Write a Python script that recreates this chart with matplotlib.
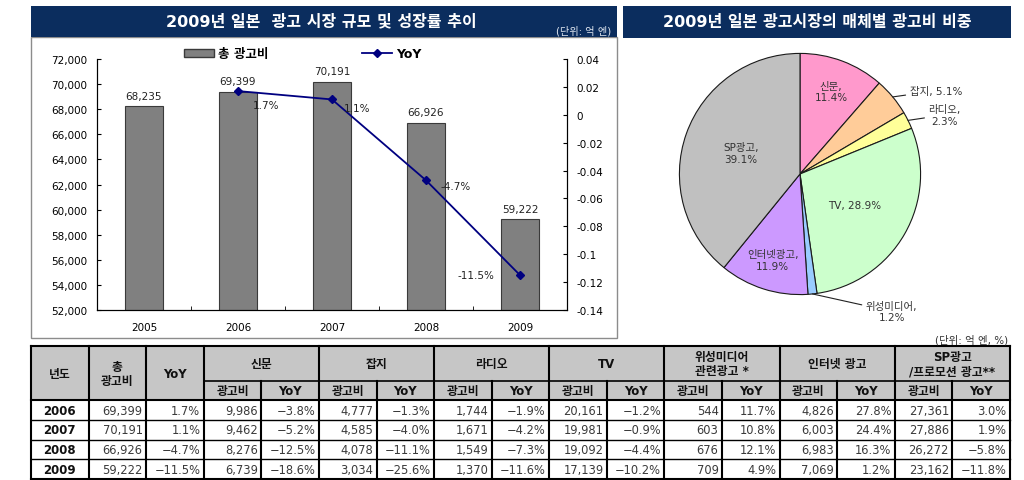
import matplotlib
matplotlib.use('Agg')
import matplotlib.pyplot as plt
from matplotlib.patches import Rectangle, Patch
from matplotlib.lines import Line2D
from matplotlib.ticker import FuncFormatter, FixedLocator
import numpy as np

plt.rcParams['font.family'] = ['DejaVu Sans', 'Noto Sans CJK KR']
plt.rcParams['axes.unicode_minus'] = False

# --- data -------------------------------------------------------------
years = ['2005', '2006', '2007', '2008', '2009']
total_ad = [68235, 69399, 70191, 66926, 59222]
yoy_years = ['2006', '2007', '2008', '2009']
yoy = [0.017, 0.011, -0.047, -0.115]
yoy_labels = ['1.7%', '1.1%', '-4.7%', '-11.5%']

media = ['신문', '잡지', '라디오', 'TV', '위성미디어', '인터넷광고', 'SP광고']
share = [11.4, 5.1, 2.3, 28.9, 1.2, 11.9, 39.1]
media_colors = ['#ff99cc', '#ffcc99', '#ffff99', '#ccffcc', '#99ccff', '#cc99ff', '#c0c0c0']

table_years = ['2006', '2007', '2008', '2009']
table_groups = ['신문', '잡지', '라디오', 'TV', '위성미디어\n관련광고 *', '인터넷 광고', 'SP광고\n/프로모션 광고**']
# columns: total, 신문, 잡지, 라디오, TV, 위성, 인터넷, SP
table_ad = [
    [69399, 9986, 4777, 1744, 20161, 544, 4826, 27361],
    [70191, 9462, 4585, 1671, 19981, 603, 6003, 27886],
    [66926, 8276, 4078, 1549, 19092, 676, 6983, 26272],
    [59222, 6739, 3034, 1370, 17139, 709, 7069, 23162],
]
table_yoy = [
    [1.7, -3.8, -1.3, -1.9, -1.2, 11.7, 27.8, 3.0],
    [1.1, -5.2, -4.0, -4.2, -0.9, 10.8, 24.4, 1.9],
    [-4.7, -12.5, -11.1, -7.3, -4.4, 12.1, 16.3, -5.8],
    [-11.5, -18.6, -25.6, -11.6, -10.2, 4.9, 1.2, -11.8],
]

W, H = 1024, 481
NAVY = '#0b2d5e'


def fx(x):
    return x / W


def fy(y):
    return 1 - y / H


fig = plt.figure(figsize=(W / 100, H / 100), dpi=100)

# --- panel frames / title bars ------------------------------------------
fig.patches.append(Rectangle((fx(31), fy(339)), fx(617) - fx(31), fy(38) - fy(339),
                             transform=fig.transFigure, fill=False, edgecolor='#8c8c8c', lw=1))
fig.patches.append(Rectangle((fx(31), fy(38)), fx(617) - fx(31), fy(7) - fy(38),
                             transform=fig.transFigure, facecolor=NAVY, edgecolor='none'))
fig.patches.append(Rectangle((fx(623), fy(39)), fx(1011) - fx(623), fy(7) - fy(39),
                             transform=fig.transFigure, facecolor=NAVY, edgecolor='none'))
fig.text(fx(321), fy(22), '2009년 일본  광고 시장 규모 및 성장률 추이', color='white',
         weight='bold', size=11.5, ha='center', va='center')
fig.text(fx(611), fy(31), '(단위: 억 엔)', color='#dfe6f0', size=7.3, ha='right', va='center')
fig.text(fx(817), fy(22), '2009년 일본 광고시장의 매체별 광고비 비중', color='white',
         weight='bold', size=11.5, ha='center', va='center')

# --- bar + line chart -----------------------------------------------------
ax = fig.add_axes([fx(97), fy(311), fx(567) - fx(97), fy(60) - fy(311)])
x = np.arange(len(years))
ax.bar(x, total_ad, width=0.41, color='#808080', edgecolor='#3a3a3a', lw=0.8)
for xi, v in zip(x, total_ad):
    ax.annotate(f'{v:,}', (xi, v), xytext=(0, 4), textcoords='offset points',
                ha='center', va='bottom', size=7.5, color='#222222')
ax.set_xlim(-0.5, len(years) - 0.5)
ax.set_ylim(52000, 72000)
ax.set_yticks(np.arange(52000, 72001, 2000))
ax.yaxis.set_major_formatter(FuncFormatter(lambda v, p: f'{v:,.0f}'))
ax.set_xticks(x)
ax.set_xticklabels(years)
ax.xaxis.set_minor_locator(FixedLocator(np.arange(0.5, len(years) - 0.5, 1)))
ax.tick_params(axis='x', which='major', length=0, pad=9, labelsize=7.5)
ax.tick_params(axis='x', which='minor', length=3, direction='in')
ax.tick_params(axis='y', length=3, direction='in', pad=7, labelsize=7.5)
ax.spines['top'].set_visible(False)
for s in ['left', 'bottom', 'right']:
    ax.spines[s].set_linewidth(0.8)

ax2 = ax.twinx()
yx = [years.index(y) for y in yoy_years]
ax2.plot(yx, yoy, color='#000080', lw=1.3, marker='D', markersize=4.5)
label_offsets = [(20, -10), (18, -6), (21, -4), (-32, 0)]
for xi, v, t, off in zip(yx, yoy, yoy_labels, label_offsets):
    ax2.annotate(t, (xi, v), xytext=off, textcoords='offset points',
                 ha='center', va='center', size=7.5, color='#222222')
ax2.set_ylim(-0.14, 0.04)
ax2.set_yticks(np.round(np.arange(-0.14, 0.041, 0.02), 2))
ax2.yaxis.set_major_formatter(FuncFormatter(lambda v, p: f'{round(v, 2):g}'))
ax2.tick_params(axis='y', length=3, direction='in', pad=7, labelsize=7.5)
ax2.spines['top'].set_visible(False)
ax2.spines['right'].set_linewidth(0.8)

handles = [Patch(facecolor='#808080', edgecolor='#3a3a3a', label='총 광고비'),
           Line2D([], [], color='#000080', marker='D', markersize=4.5, lw=1.3, label='YoY')]
ax2.legend(handles=handles, ncol=2, loc='center', bbox_to_anchor=(0.438, 1.02),
           frameon=False, prop={'weight': 'bold', 'size': 9}, handlelength=2.4,
           columnspacing=7.5, handletextpad=0.3)

# --- pie chart ------------------------------------------------------------
pax = fig.add_axes([fx(677), fy(298), fx(923) - fx(677), fy(52) - fy(298)])
wedges, _ = pax.pie(share, colors=media_colors, startangle=90, counterclock=False,
                    wedgeprops=dict(edgecolor='#1a1a1a', linewidth=0.8))
pax.set_xlim(-1.02, 1.02)
pax.set_ylim(-1.02, 1.02)

total_share = sum(share)
mid = 90 - 360 * (np.cumsum(share) - np.array(share) / 2) / total_share
inside = {'신문': (0.73, '{m},\n{s}%'), 'TV': (0.52, '{m}, {s}%'),
          '인터넷광고': (0.75, '{m},\n{s}%'), 'SP광고': (0.52, '{m},\n{s}%')}
outside = {'잡지': ((0.91, 0.69), 'left', '{m}, {s}%'),
           '라디오': ((1.2, 0.49), 'center', '{m},\n{s}%'),
           '위성미디어': ((0.76, -1.14), 'center', '{m},\n{s}%')}
for m, s, a in zip(media, share, mid):
    rad = np.deg2rad(a)
    if m in inside:
        r, fmt = inside[m]
        pax.text(r * np.cos(rad), r * np.sin(rad), fmt.format(m=m, s=s), ha='center',
                 va='center', size=7.5, color='#333333', linespacing=1.2)
    else:
        pos, ha, fmt = outside[m]
        pax.annotate(fmt.format(m=m, s=s), (np.cos(rad), np.sin(rad)), xytext=pos,
                     ha=ha, va='center', size=7.5, color='#333333', linespacing=1.2,
                     annotation_clip=False,
                     arrowprops=dict(arrowstyle='-', color='#222222', lw=0.8,
                                     shrinkA=1, shrinkB=0))
fig.text(fx(1008), fy(340), '(단위: 억 엔, %)', size=7.5, color='#333333', ha='right', va='center')

# --- table ----------------------------------------------------------------
ncol = 3 + 2 * len(table_groups)
row_h = [1.8, 0.95] + [1.0] * len(table_years)
row_y = np.concatenate([[0], np.cumsum(row_h)])
tax = fig.add_axes([fx(31), fy(480), fx(1010) - fx(31), fy(347) - fy(480)])
tax.set_xlim(0, ncol)
tax.set_ylim(row_y[-1], 0)
tax.axis('off')
tax.add_patch(Rectangle((0, 0), ncol, row_y[2], facecolor='#c6c6c6', edgecolor='none'))

lk = dict(color='black', clip_on=False)
tax.plot([0, ncol], [0, 0], lw=1.5, **lk)
tax.plot([3, ncol], [row_y[1]] * 2, lw=1.2, **lk)
for yy in row_y[2:]:
    tax.plot([0, ncol], [yy, yy], lw=1.5 if yy in (row_y[2], row_y[-1]) else 1.0, **lk)
for c in range(ncol + 1):
    top = row_y[1] if (c > 3 and (c - 3) % 2 == 1) else 0
    tax.plot([c, c], [top, row_y[-1]], lw=1.5, **lk)

hk = dict(ha='center', va='center', weight='bold', size=8.5, color='#111111', linespacing=1.1)
tax.text(0.5, row_y[2] / 2, '년도', **hk)
tax.text(1.5, row_y[2] / 2, '총\n광고비', **hk)
tax.text(2.5, row_y[2] / 2, 'YoY', **hk)
for g, name in enumerate(table_groups):
    c0 = 3 + 2 * g
    tax.text(c0 + 1, row_y[1] / 2, name, **hk)
    tax.text(c0 + 0.5, (row_y[1] + row_y[2]) / 2, '광고비', **hk)
    tax.text(c0 + 1.5, (row_y[1] + row_y[2]) / 2, 'YoY', **hk)


def pct(v):
    return f'{v:.1f}%'.replace('-', '−')


for r, yr in enumerate(table_years):
    yc = (row_y[r + 2] + row_y[r + 3]) / 2
    tax.text(0.5, yc, yr, ha='center', va='center', weight='bold', size=8.5, color='#111111')
    cells = [f'{table_ad[r][0]:,}', pct(table_yoy[r][0])]
    for k in range(1, len(table_ad[r])):
        cells += [f'{table_ad[r][k]:,}', pct(table_yoy[r][k])]
    for k, t in enumerate(cells):
        tax.text(1 + k + 0.94, yc, t, ha='right', va='center', size=8.3, color='#3a3a3a')

fig.savefig('out.png', dpi=100)
